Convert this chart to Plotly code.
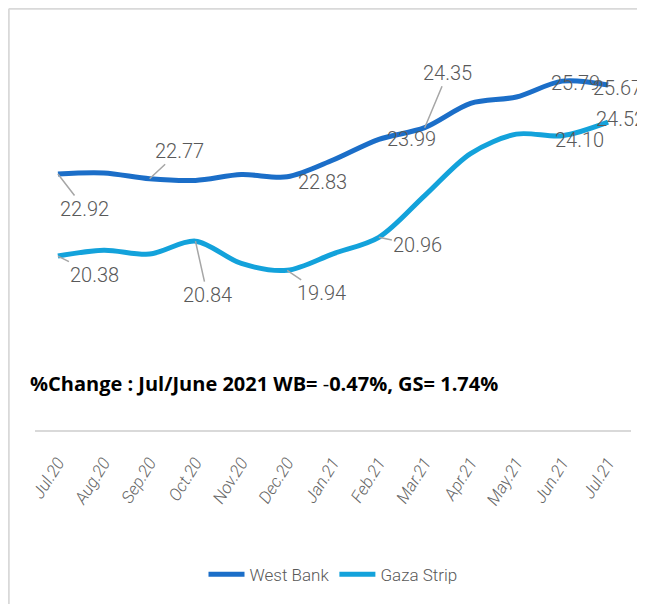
import plotly.graph_objects as go

months = ["Jul.20", "Aug.20", "Sep.20", "Oct.20", "Nov.20", "Dec.20", "Jan.21",
          "Feb.21", "Mar.21", "Apr.21", "May.21", "Jun.21", "Jul.21"]
west_bank = [22.92, 22.95, 22.77, 22.72, 22.90, 22.83, 23.35, 23.99, 24.35, 25.10, 25.30, 25.79, 25.67]
gaza_strip = [20.38, 20.56, 20.44, 20.84, 20.15, 19.94, 20.45, 20.96, 22.25, 23.55, 24.15, 24.10, 24.52]

# labels: (index, dx, dy, leader)
wb_labels = [(0, 27, 35, True), (2, 30, -28, True), (5, 35, 5, False), (7, 33, 0, False),
             (8, 23, -55, True), (11, 13, 2, False), (12, 9, 3, False)]
gs_labels = [(0, 37, 19, True), (3, 12, 54, True), (5, 34, 23, True), (7, 39, 8, True),
             (11, 17, 4, False), (12, 12, -3, False)]

WB_COLOR = "#1b6ec8"
GS_COLOR = "#13a2db"
LABEL_FONT = "Roboto, sans-serif"

fig = go.Figure()
fig.add_trace(go.Scatter(x=months, y=west_bank, mode="lines", name="West Bank",
                         line=dict(color=WB_COLOR, width=5, shape="spline", smoothing=0.9)))
fig.add_trace(go.Scatter(x=months, y=gaza_strip, mode="lines", name="Gaza Strip",
                         line=dict(color=GS_COLOR, width=5, shape="spline", smoothing=0.9)))

annotations = []
for series, labels in ((west_bank, wb_labels), (gaza_strip, gs_labels)):
    for idx, ax, ay, leader in labels:
        txt = f"{series[idx]:.2f}"
        font = dict(family=LABEL_FONT, size=20, color="#595959", weight=300)
        if leader:
            annotations.append(dict(x=months[idx], y=series[idx], xref="x", yref="y", text=txt,
                                    showarrow=True, ax=ax, ay=ay, arrowhead=0, arrowwidth=1.5,
                                    arrowcolor="#a6a6a6", standoff=0, font=font))
        else:
            annotations.append(dict(x=months[idx], y=series[idx], xref="x", yref="y", text=txt,
                                    showarrow=False, xshift=ax, yshift=-ay, font=font))

annotations.append(dict(x=-0.012, y=0.121, xref="paper", yref="paper", xanchor="left", yanchor="middle",
                        showarrow=False,
                        text="<b>%Change : Jul/June 2021 WB= </b>-<b>0.47%, GS= 1.74%</b>",
                        font=dict(family="Open Sans, sans-serif", size=20, color="#000000")))

shapes = [
    dict(type="line", xref="paper", yref="paper", x0=-0.044, x1=-0.044, y0=-0.45, y1=1.086,
         line=dict(color="#d9d9d9", width=2)),
    dict(type="line", xref="paper", yref="paper", x0=-0.044, x1=1.03, y0=1.086, y1=1.086,
         line=dict(color="#d9d9d9", width=2)),
]

fig.update_layout(
    width=637, height=596,
    margin=dict(l=27, r=14, t=34, b=174, autoexpand=False),
    paper_bgcolor="white", plot_bgcolor="white",
    showlegend=True,
    legend=dict(orientation="h", x=0.5, xanchor="center", y=-0.373, yanchor="middle",
                font=dict(family=LABEL_FONT, size=17, color="#595959", weight=300),
                itemwidth=36, tracegroupgap=0),
    annotations=annotations,
    shapes=shapes,
    xaxis=dict(type="category", range=[-0.5, 12.5], showgrid=False, zeroline=False,
               showline=True, linecolor="#d9d9d9", linewidth=2, automargin=False,
               ticks="", tickangle=-58,
               tickfont=dict(family=LABEL_FONT, size=17, color="#666666", style="italic", weight=300),
               ticklabelstandoff=14),
    yaxis=dict(range=[15, 27], visible=False, automargin=False),
)

fig.write_html("out.html")
